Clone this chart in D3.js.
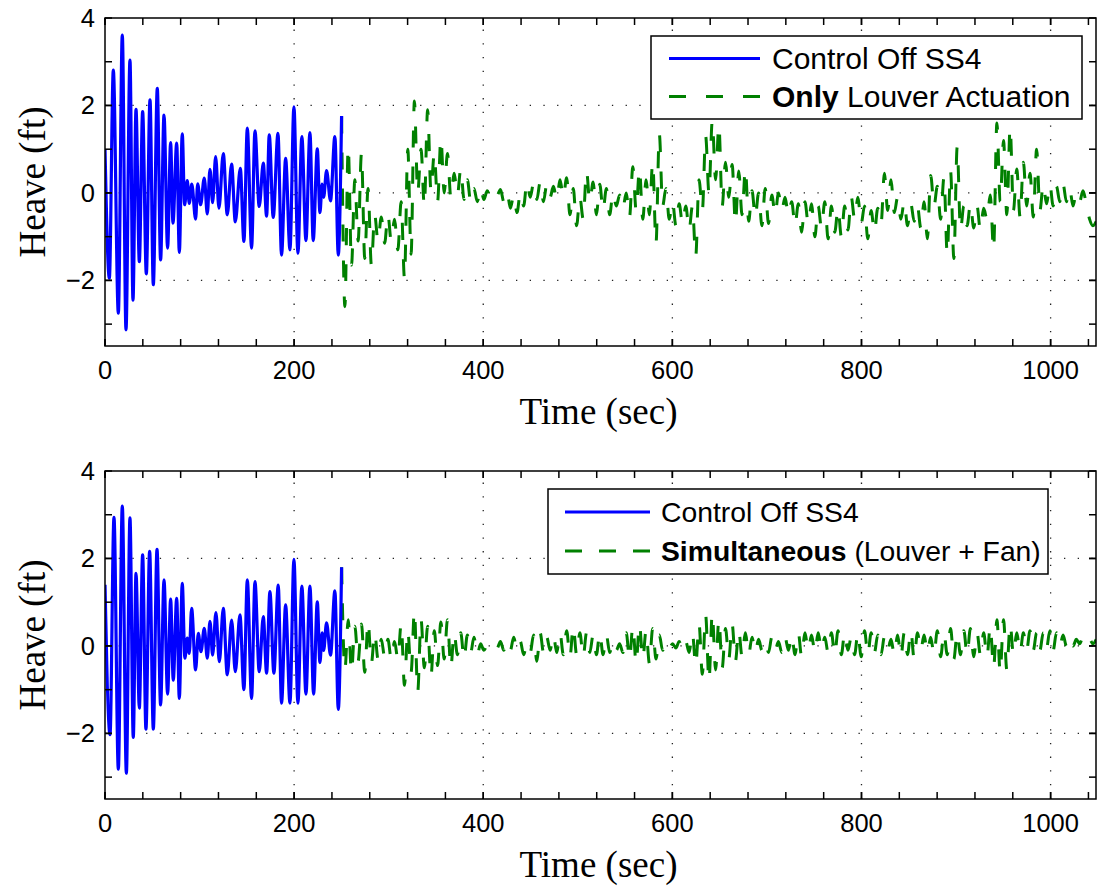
<!DOCTYPE html>
<html><head><meta charset="utf-8">
<script src="https://cdn.jsdelivr.net/npm/d3@7"></script>
<style>body{margin:0;background:#fff}</style>
</head><body>
<svg id="chart" width="1097" height="890"></svg>
<script>
// ---- axis ticks ----
const xTicks = [0, 200, 400, 600, 800, 1000];
const yTicks = [-2, 0, 2, 4];
const xDomain = [0, 1048];
const yDomain = [-3.5, 4];

// ---- Control Off SS4 (uncontrolled heave), extrema as [time s, heave ft] ----
const baselineTop = [
  [0,1.0],[4.6,-1.95],[8.8,2.81],[14.1,-2.75],[18.3,3.61],[22.2,-3.13],[26.4,3.04],[29.6,-2.45],
  [32.8,1.91],[36.3,-1.57],[39.8,1.86],[43.7,-1.85],[47.6,2.13],[51.1,-2.1],[55.3,2.39],[58.8,-1.53],
  [62.4,1.78],[66.2,-1.26],[69.4,1.15],[71.9,-0.69],[75.8,1.14],[78.6,-1.36],[81.7,1.35],[84.2,-0.27],
  [87.0,0.28],[89.1,-0.24],[91.8,0.2],[95.8,-0.6],[98.0,0.21],[101.1,-0.27],[105,0.34],[108.2,-0.48],
  [111,0.54],[113.8,-0.22],[117,0.83],[120.5,-0.35],[125.1,0.9],[129.3,-0.5],[133.9,0.66],[137.8,-0.66],
  [143.1,0.56],[146.9,-1.11],[150.5,1.48],[155.0,-1.26],[158.6,1.42],[163.1,-0.31],[167.4,0.68],[170.9,-0.53],
  [173.7,1.33],[177.9,-0.56],[182.9,1.36],[186.7,-1.42],[191,0.79],[195.6,-1.3],[199.8,1.97],[204,-1.38],
  [208.2,1.29],[212.5,-1.09],[216.7,1.38],[220.2,-1.09],[224.5,1.01],[227.3,-0.45],[229.6,0.2],[231.2,-0.1],
  [234.3,0.51],[238.5,-0.18],[243.1,1.29],[246.7,-1.42],[250.2,1.76]
];
const baselineBottom = [
  [0,1.4],[5.3,-2.03],[9.5,2.94],[14.1,-2.82],[18.3,3.2],[22.6,-2.91],[26.4,2.93],[29.9,-2.09],
  [32.8,1.66],[36.3,-1.42],[39.8,2.08],[43.3,-1.9],[47.2,2.16],[51.1,-1.9],[55.0,2.21],[58.8,-1.35],
  [62.4,1.51],[66.2,-1.1],[69.4,1.07],[72.2,-0.78],[75.8,1.09],[78.6,-1.2],[81.7,1.43],[84.5,-0.28],
  [87,0.18],[89.1,-0.17],[91.6,0.86],[95.8,-0.55],[98.7,0.29],[101.5,-0.13],[105,0.4],[108.2,-0.28],
  [111,0.56],[113.8,-0.21],[117.3,0.76],[120.9,-0.36],[125.1,0.86],[129.3,-0.66],[133.9,0.59],[137.8,-0.59],
  [142.7,0.71],[146.9,-1.0],[150.5,1.51],[155,-1.2],[158.6,1.47],[163.1,-0.59],[167.4,0.67],[170.9,-0.62],
  [174.4,1.24],[178.6,-0.62],[183.2,1.39],[186.7,-1.31],[191,0.94],[195.6,-1.31],[199.8,1.98],[204,-1.31],
  [208.2,1.37],[212.5,-1.1],[216.7,1.37],[220.6,-1.1],[224.5,1.01],[227.3,-0.38],[229.6,0.3],[231.2,-0.1],
  [234.3,0.53],[238.5,-0.21],[243.1,1.26],[246.7,-1.45],[250.2,1.8]
];

// ---- controlled response, sampled every 3.5 s from t = 250.2 s ----
const controlStart = 250.2;
const controlStep = 3.5;
const louverOnly = [
  1.75,-2.6,1.05,-1.65,0.3,-1.1,0.9,-1.5,0.1,-1.65,
  -0.5,-1.1,-0.55,-1.15,-0.5,-1.1,-0.6,-1.3,-0.2,-1.95,
  1.0,-1.4,2.1,0.0,1.0,-0.3,1.9,0.05,0.9,-0.2,
  1.25,0.0,0.9,-0.1,0.45,-0.05,0.55,-0.15,0.3,-0.2,
  0.1,-0.2,0.12,-0.15,0.05,-0.1,0.05,-0.05,0.08,-0.2,
  0.02,-0.35,-0.05,-0.45,0.0,-0.3,0.25,-0.1,0.22,-0.15,
  0.25,-0.2,0.2,-0.1,0.15,-0.15,0.3,-0.1,0.35,-0.5,
  0.1,-0.75,-0.1,-0.6,0.5,-0.2,0.25,-0.5,0.2,-0.4,
  0.1,-0.5,0.0,-0.3,-0.05,-0.35,0.0,-0.55,0.6,-0.4,
  0.55,-0.6,0.3,-0.5,0.7,-1.15,1.35,-0.3,0.1,-0.6,
  -0.2,-0.75,-0.25,-0.7,-0.3,-0.85,-0.3,-1.45,0.3,-0.4,
  1.3,0.0,1.65,0.3,1.55,-0.3,0.7,-0.1,0.65,-0.7,
  0.5,-0.5,0.55,-0.65,0.05,-0.55,0.0,-0.75,0.1,-0.7,
  -0.05,-0.5,0.0,-0.4,-0.1,-0.5,-0.2,-0.75,-0.25,-0.9,
  -0.2,-0.7,-0.25,-1.0,-0.3,-0.8,-0.2,-1.05,-0.3,-0.9,
  -0.35,-1.0,-0.3,-0.85,-0.1,-0.6,-0.1,-0.7,-0.3,-1.05,
  -0.4,-0.9,-0.35,-0.7,0.45,-0.4,0.3,-0.45,-0.1,-0.6,
  -0.2,-0.75,-0.25,-0.65,-0.3,-0.8,-0.2,-1.05,0.4,-0.3,
  0.15,-0.6,0.35,-1.4,0.5,-1.5,1.05,-0.85,-0.3,-0.75,
  -0.25,-0.8,-0.3,-0.85,-0.35,-0.6,-0.05,-1.3,1.6,-0.2,
  1.2,-0.5,1.5,-0.4,0.55,-0.55,0.7,-0.3,0.45,-0.55,
  1.0,-0.4,0.2,-0.25,0.2,-0.3,0.15,-0.2,0.2,-0.2,
  0.1,-0.3,0.0,-0.2,0.05,-0.25,-0.6,-0.75,-0.65
];
const simultaneous = [
  1.8,-0.55,0.6,-0.6,0.45,-0.35,0.5,-0.6,0.55,-0.4,
  0.3,-0.3,0.15,-0.25,0.15,-0.3,0.1,-0.3,0.5,-0.9,
  0.35,-0.6,0.8,-1.05,0.6,-0.5,0.45,-0.7,0.35,-0.45,
  0.55,-0.3,0.6,-0.5,0.3,-0.2,0.3,-0.3,0.25,-0.15,
  0.2,-0.2,0.05,-0.1,0.0,-0.05,0.05,-0.05,0.1,-0.1,
  0.1,-0.1,0.2,-0.1,0.1,-0.2,0.05,-0.15,0.25,-0.35,
  0.3,-0.15,0.2,-0.1,0.25,-0.15,0.3,-0.2,0.35,-0.25,
  0.45,-0.2,0.3,-0.25,0.3,-0.15,0.25,-0.2,0.3,-0.2,
  0.25,-0.15,0.1,-0.1,0.05,-0.15,0.3,-0.3,0.45,-0.4,
  0.5,-0.3,0.35,-0.4,0.4,-0.3,0.25,-0.1,0.1,-0.05,
  0.05,-0.05,0.1,-0.1,0.1,-0.15,0.3,-0.45,0.5,-0.65,
  0.7,-0.8,0.75,-0.55,0.6,-0.5,0.4,-0.3,0.5,-0.35,
  0.35,-0.25,0.3,-0.2,0.2,-0.15,0.15,-0.1,0.1,-0.15,
  0.2,-0.1,0.1,-0.15,0.2,-0.1,0.25,-0.2,0.3,-0.25,
  0.3,-0.1,0.25,-0.15,0.3,-0.1,0.2,-0.15,0.3,-0.2,
  0.35,-0.2,0.3,-0.1,0.2,-0.2,0.3,-0.25,0.35,-0.2,
  0.3,-0.15,0.25,-0.2,0.2,-0.1,0.15,-0.2,0.25,-0.25,
  0.3,-0.2,0.35,-0.3,0.3,-0.1,0.25,-0.15,0.2,-0.2,
  0.35,-0.25,0.3,-0.2,0.4,-0.3,0.3,-0.2,0.35,-0.2,
  0.4,-0.25,0.3,-0.2,0.3,-0.25,0.45,-0.5,0.6,-0.6,
  0.6,-0.55,0.5,-0.2,0.3,-0.15,0.3,-0.1,0.35,-0.1,
  0.3,-0.1,0.3,-0.05,0.35,-0.1,0.3,0.0,0.25,0.0,
  0.2,0.0,0.15,0.05,0.2,0.05,0.15,0.05,0.15
];

const blueLabel = "Control Off SS4";
const panels = [
  { top: 18, bottom: 346, base: baselineTop, ctrl: louverOnly,
    legend: { x: 651, y: 36, w: 431, h: 83, fs: 30, l0: 18, l1: 109, tx: 121, dash: "17,20",
              bold: "Only", rest: " Louver Actuation" } },
  { top: 471, bottom: 799, base: baselineBottom, ctrl: simultaneous,
    legend: { x: 548, y: 489, w: 500, h: 85, fs: 28.3, l0: 17, l1: 102, tx: 113, dash: "17,17",
              bold: "Simultaneous", rest: " (Louver + Fan)" } }
];

const svg = d3.select("#chart");
const left = 105, right = 1096;
const sans = "'Liberation Sans', Arial, sans-serif";
const serif = "'Liberation Serif', 'Times New Roman', serif";

panels.forEach((p, i) => {
  const x = d3.scaleLinear().domain(xDomain).range([left, right]);
  const y = d3.scaleLinear().domain(yDomain).range([p.bottom, p.top]);
  const g = svg.append("g");

  g.append("clipPath").attr("id", "clip" + i)
    .append("rect").attr("x", left).attr("y", p.top)
    .attr("width", right - left).attr("height", p.bottom - p.top);

  // dotted grid at major ticks
  const grid = g.append("g").attr("stroke", "#222").attr("stroke-width", 1.3)
    .attr("stroke-dasharray", "1.3,12.4");
  grid.selectAll("line.v").data(xTicks.filter(d => d > 0)).join("line")
    .attr("x1", d => x(d)).attr("x2", d => x(d))
    .attr("y1", p.bottom).attr("y2", p.top);
  grid.selectAll("line.h").data(yTicks.filter(d => d < 4)).join("line")
    .attr("y1", d => y(d)).attr("y2", d => y(d))
    .attr("x1", left).attr("x2", right);

  const lines = g.append("g").attr("clip-path", `url(#clip${i})`);
  const lineGen = d3.line().x(d => x(d[0])).y(d => y(d[1])).curve(d3.curveMonotoneX);

  const ctrlPts = p.ctrl.map((v, k) => [controlStart + k * controlStep, v]);
  lines.append("path").datum(ctrlPts).attr("d", lineGen)
    .attr("fill", "none").attr("stroke", "#008000").attr("stroke-width", 3)
    .attr("stroke-dasharray", "17,19");
  lines.append("path").datum(p.base).attr("d", lineGen)
    .attr("fill", "none").attr("stroke", "#0000ff").attr("stroke-width", 3.2)
    .attr("stroke-linejoin", "round");

  // box and ticks (inward, on all four sides)
  const ax = g.append("g").attr("stroke", "#000").attr("stroke-width", 1.5);
  ax.append("rect").attr("x", left).attr("y", p.top)
    .attr("width", right - left).attr("height", p.bottom - p.top).attr("fill", "none");
  const xMinor = d3.range(0, 1048, 40);
  const yMinor = d3.range(-3, 4, 1);
  const tl = 7;
  xMinor.concat(xTicks).forEach(t => {
    ax.append("line").attr("x1", x(t)).attr("x2", x(t)).attr("y1", p.bottom).attr("y2", p.bottom - tl);
    ax.append("line").attr("x1", x(t)).attr("x2", x(t)).attr("y1", p.top).attr("y2", p.top + tl);
  });
  yMinor.concat(yTicks).forEach(v => {
    ax.append("line").attr("y1", y(v)).attr("y2", y(v)).attr("x1", left).attr("x2", left + tl);
    ax.append("line").attr("y1", y(v)).attr("y2", y(v)).attr("x1", right).attr("x2", right - tl);
  });

  // tick labels
  g.selectAll("text.xt").data(xTicks).join("text")
    .attr("x", d => x(d)).attr("y", p.bottom + 33)
    .attr("text-anchor", "middle").attr("font-family", sans).attr("font-size", 25.5)
    .text(d => d);
  g.selectAll("text.yt").data(yTicks).join("text")
    .attr("x", left - 10).attr("y", d => y(d) + 9)
    .attr("text-anchor", "end").attr("font-family", sans).attr("font-size", 25.5)
    .text(d => d < 0 ? "\u2212" + Math.abs(d) : d);

  // axis titles
  g.append("text").attr("x", (left + right) / 2 - 2).attr("y", p.bottom + 78)
    .attr("text-anchor", "middle").attr("font-family", serif).attr("font-size", 37)
    .text("Time (sec)");
  g.append("text")
    .attr("transform", `translate(45,${(p.top + p.bottom) / 2}) rotate(-90)`)
    .attr("text-anchor", "middle").attr("font-family", serif).attr("font-size", 37)
    .text("Heave (ft)");

  // legend
  const L = p.legend;
  const lg = g.append("g");
  lg.append("rect").attr("x", L.x).attr("y", L.y).attr("width", L.w).attr("height", L.h)
    .attr("fill", "#fff").attr("stroke", "#000").attr("stroke-width", 1.5);
  const r1 = L.y + L.h * 0.27, r2 = L.y + L.h * 0.73;
  lg.append("line").attr("x1", L.x + L.l0).attr("x2", L.x + L.l1).attr("y1", r1).attr("y2", r1)
    .attr("stroke", "#0000ff").attr("stroke-width", 3);
  lg.append("line").attr("x1", L.x + L.l0).attr("x2", L.x + L.l1).attr("y1", r2).attr("y2", r2)
    .attr("stroke", "#008000").attr("stroke-width", 3).attr("stroke-dasharray", L.dash);
  lg.append("text").attr("x", L.x + L.tx).attr("y", r1 + L.fs * 0.35)
    .attr("font-family", sans).attr("font-size", L.fs).text(blueLabel);
  const t2 = lg.append("text").attr("x", L.x + L.tx).attr("y", r2 + L.fs * 0.35)
    .attr("font-family", sans).attr("font-size", L.fs);
  t2.append("tspan").attr("font-weight", "bold").text(L.bold);
  t2.append("tspan").text(L.rest);
});
</script>
</body></html>
